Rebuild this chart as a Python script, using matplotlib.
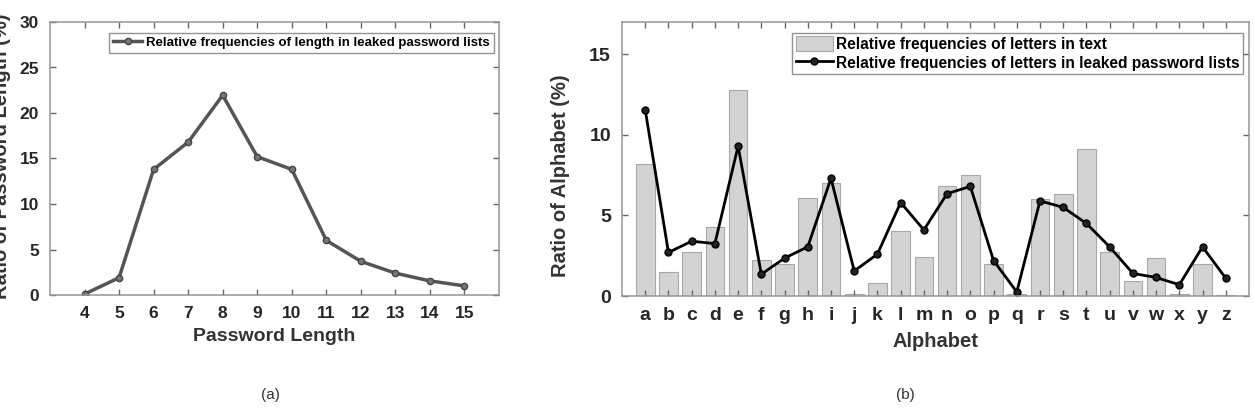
import matplotlib
matplotlib.use("Agg")
import matplotlib.pyplot as plt

plt.rcParams['font.family'] = ['Liberation Sans', 'DejaVu Sans']

# (a) password length distribution
lengths = [4, 5, 6, 7, 8, 9, 10, 11, 12, 13, 14, 15]
length_freq = [0.1, 1.9, 13.8, 16.8, 21.95, 15.2, 13.8, 6.0, 3.7, 2.4, 1.55, 1.0]

# (b) letter frequencies
letters = list("abcdefghijklmnopqrstuvwxyz")
text_freq = [8.2, 1.5, 2.75, 4.3, 12.8, 2.25, 2.0, 6.1, 7.0, 0.1, 0.8, 4.05, 2.4,
             6.8, 7.5, 2.0, 0.1, 6.0, 6.35, 9.1, 2.75, 0.95, 2.35, 0.15, 2.0, 0.07]
pwd_freq = [11.55, 2.7, 3.4, 3.25, 9.3, 1.35, 2.35, 3.05, 7.3, 1.55, 2.6, 5.8, 4.1,
            6.35, 6.8, 2.2, 0.25, 5.9, 5.5, 4.5, 3.05, 1.4, 1.15, 0.7, 3.05, 1.1]

W, H = 1254, 411
fig = plt.figure(figsize=(W / 100, H / 100), dpi=100)

tick_col = "#262626"
spine_col = "#959595"


def style(ax, size):
    for s in ax.spines.values():
        s.set_color(spine_col)
        s.set_linewidth(1.1)
    ax.tick_params(direction="in", top=True, right=True, length=4, width=1,
                   color="#666666", labelcolor=tick_col, labelsize=size, pad=8)
    for lab in ax.get_xticklabels() + ax.get_yticklabels():
        lab.set_fontweight("bold")


# left panel
ax1 = fig.add_axes([50 / W, 1 - 295 / H, 449 / W, 273 / H])
ax1.plot(lengths, length_freq, color="#555555", lw=2.5, marker="o", ms=4.5,
         mfc="#777777", mec="#444444", label="Relative frequencies of length in leaked password lists")
ax1.set_xlim(3, 16)
ax1.set_ylim(0, 30)
ax1.set_xticks(lengths)
ax1.set_yticks(range(0, 31, 5))
style(ax1, 12.5)
ax1.set_xlabel("Password Length", fontsize=14, fontweight="bold", color="#333333", labelpad=5)
ax1.legend(loc="upper right", prop={"weight": "bold", "size": 9.5},
           frameon=True, fancybox=False, edgecolor="#777777", handlelength=2.2,
           borderpad=0.3, handletextpad=0.3, borderaxespad=0,
           bbox_to_anchor=(0.988, 0.96))
# y label is clipped by the left edge in the original figure
fig.text(2 / W, 1 - 156 / H, "Ratio of Password Length (%)", rotation=90, ha="center",
         va="center", fontsize=14.5, fontweight="bold", color="#333333")

# right panel
ax2 = fig.add_axes([622 / W, 1 - 296 / H, 627 / W, 274 / H])
pos = list(range(1, len(letters) + 1))
bars = ax2.bar(pos, text_freq, width=0.8, color="#d3d3d3", edgecolor="#a8a8a8", lw=0.8,
               label="Relative frequencies of letters in text")
line, = ax2.plot(pos, pwd_freq, color="black", lw=2, marker="o", ms=5, mfc="#222222",
                 mec="black", label="Relative frequencies of letters in leaked password lists")
ax2.set_xlim(0, 27)
ax2.set_ylim(0, 17)
ax2.set_xticks(pos)
ax2.set_xticklabels(letters)
ax2.set_yticks([0, 5, 10, 15])
style(ax2, 14)
ax2.set_xlabel("Alphabet", fontsize=14.5, fontweight="bold", color="#333333", labelpad=6)
ax2.set_ylabel("Ratio of Alphabet (%)", fontsize=14.5, fontweight="bold", color="#333333")
ax2.yaxis.set_label_coords(-0.083, 0.44)
ax2.legend(handles=[bars, line], loc="upper right", prop={"weight": "bold", "size": 11.2},
           frameon=True, fancybox=False, edgecolor="#777777", handlelength=2.4,
           handleheight=1.1, borderpad=0.2, handletextpad=0.2, labelspacing=0.2,
           borderaxespad=0, bbox_to_anchor=(0.99, 0.96))

fig.text(270 / W, 1 - 395 / H, "(a)", ha="center", va="center", fontsize=11, color="#333333")
fig.text(905 / W, 1 - 395 / H, "(b)", ha="center", va="center", fontsize=11, color="#333333")

fig.savefig("out.png", dpi=100)
